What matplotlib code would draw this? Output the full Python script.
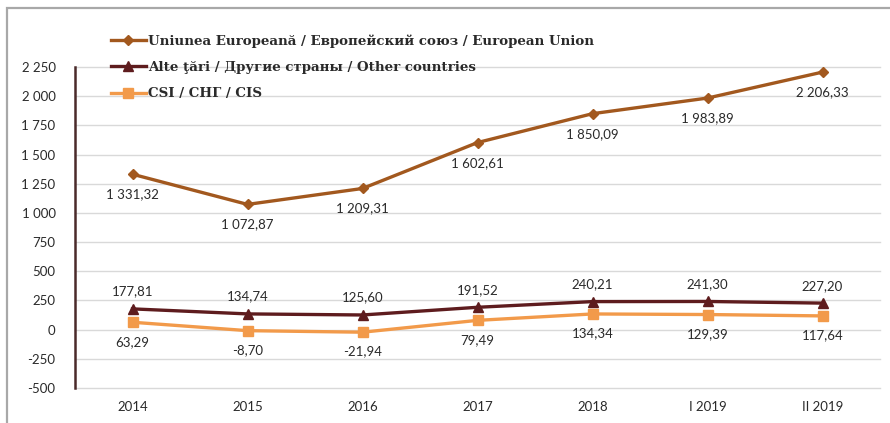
import matplotlib
matplotlib.use("Agg")
import matplotlib.pyplot as plt
from matplotlib.patches import Rectangle

categories = ["2014", "2015", "2016", "2017", "2018", "I 2019", "II 2019"]
eu = [1331.32, 1072.87, 1209.31, 1602.61, 1850.09, 1983.89, 2206.33]
other = [177.81, 134.74, 125.60, 191.52, 240.21, 241.30, 227.20]
cis = [63.29, -8.70, -21.94, 79.49, 134.34, 129.39, 117.64]
yticks = [-500, -250, 0, 250, 500, 750, 1000, 1250, 1500, 1750, 2000, 2250]
series_names = ["Uniunea Europeană / Европейский союз / European Union",
                "Alte ţări / Другие страны / Other countries",
                "CSI / СНГ / CIS"]

c_eu = "#A2581E"
c_other = "#5E1C1E"
c_cis = "#F29A4A"
txt = "#2a2a2a"


def fmt(v):
    s = f"{abs(v):,.2f}".replace(",", " ").replace(".", ",")
    return ("-" if v < 0 else "") + s


def fmt_tick(v):
    s = f"{abs(v):,d}".replace(",", " ")
    return ("-" if v < 0 else "") + s


fig = plt.figure(figsize=(8.9, 4.23), dpi=100)
ax = fig.add_axes([75 / 890, 1 - 388 / 423, (880 - 75) / 890, (388 - 67) / 423])

x = list(range(len(categories)))
l1, = ax.plot(x, eu, color=c_eu, lw=2.4, marker="D", ms=5, zorder=4)
l2, = ax.plot(x, other, color=c_other, lw=2.4, marker="^", ms=7, zorder=4)
l3, = ax.plot(x, cis, color=c_cis, lw=2.4, marker="s", ms=7, zorder=3)

ax.set_xlim(-0.5, len(categories) - 0.5)
ax.set_ylim(-500, 2250)
ax.set_yticks(yticks)
ax.set_yticklabels([fmt_tick(v) for v in yticks])
ax.set_xticks(x)
ax.set_xticklabels(categories)
ax.grid(axis="y", color="#d9d9d9", lw=1, clip_on=False)
ax.set_axisbelow(True)
for s in ["top", "right", "bottom"]:
    ax.spines[s].set_visible(False)
ax.spines["left"].set_color("#4a2a2a")
ax.spines["left"].set_linewidth(1.8)
ax.tick_params(axis="both", length=0, labelsize=9.5, colors=txt, pad=6)
ax.tick_params(axis="y", pad=14)
ax.tick_params(axis="x", pad=9)
for lab in ax.get_xticklabels() + ax.get_yticklabels():
    lab.set_fontfamily("Lato")

lab_kw = dict(ha="center", fontsize=9.5, color=txt, family="Lato")
for i in x:
    ax.annotate(fmt(eu[i]), (i, eu[i]), xytext=(0, -14.5), textcoords="offset points",
                va="center", **lab_kw)
    ax.annotate(fmt(other[i]), (i, other[i]), xytext=(0, 12.5), textcoords="offset points",
                va="center", **lab_kw)
    ax.annotate(fmt(cis[i]), (i, cis[i]), xytext=(0, -14), textcoords="offset points",
                va="center", **lab_kw)

leg = fig.legend([l1, l2, l3], series_names, loc="upper left",
                 bbox_to_anchor=(99 / 890, 1 - 22 / 423), frameon=False,
                 handlelength=2.6, handletextpad=0.2, labelspacing=1.0,
                 prop={"family": "DejaVu Serif", "weight": "bold", "size": 9.6})
for t in leg.get_texts():
    t.set_color(txt)

# outer frame
fig.patches.append(Rectangle((7 / 890, -0.05), 2, 1 - 8 / 423 + 0.05,
                             transform=fig.transFigure, fill=False,
                             edgecolor="#a8a8a8", lw=1.6))

fig.savefig("out.png", dpi=100)
